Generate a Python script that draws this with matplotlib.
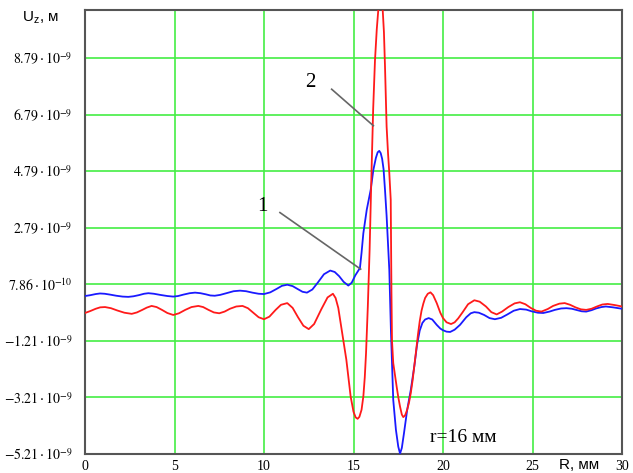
import numpy as np
import matplotlib
matplotlib.use("Agg")
import matplotlib.pyplot as plt

plt.rcParams['mathtext.fontset'] = 'stix'

# ---- data (R in mm, U in units of 1e-9 m) ----
r_blue = [0.0, 0.3, 0.6, 0.84, 1.1, 1.4, 1.75, 2.1, 2.42, 2.7, 3.0, 3.3, 3.54, 3.85, 4.2, 4.6,
          4.93, 5.2, 5.5, 5.85, 6.15, 6.45, 6.75, 7.0, 7.25, 7.55, 7.9, 8.3, 8.66, 9.0, 9.35,
          9.7, 10.0, 10.35, 10.7, 11.0, 11.3, 11.6, 11.9, 12.15, 12.4, 12.7, 13.0, 13.35,
          13.7, 13.95, 14.2, 14.45, 14.71, 14.9, 15.1, 15.36, 15.45, 15.55, 15.74, 15.96,
          16.11, 16.25, 16.35, 16.44, 16.52, 16.6, 16.68, 16.76, 16.85, 17.0, 17.09, 17.22,
          17.37, 17.5, 17.6, 17.7, 17.82, 18.0, 18.2, 18.4, 18.55, 18.7, 18.85, 19.0, 19.2,
          19.4, 19.65, 19.85, 20.0, 20.2, 20.4, 20.65, 20.95, 21.3, 21.55, 21.75, 22.0, 22.3,
          22.6, 22.9, 23.25, 23.6, 23.95, 24.3, 24.65, 24.95, 25.3, 25.6, 25.95, 26.25, 26.6,
          26.9, 27.2, 27.5, 27.75, 28.0, 28.3, 28.55, 28.85, 29.1, 29.5, 30.0]
u_blue = [0.37, 0.40, 0.44, 0.46, 0.45, 0.42, 0.38, 0.35, 0.34, 0.36, 0.40, 0.45, 0.47, 0.45, 0.41, 0.37,
          0.35, 0.37, 0.42, 0.47, 0.49, 0.47, 0.43, 0.39, 0.38, 0.41, 0.47, 0.54, 0.56, 0.54, 0.49,
          0.45, 0.44, 0.50, 0.62, 0.73, 0.77, 0.72, 0.61, 0.52, 0.49, 0.60, 0.84, 1.14,
          1.27, 1.22, 1.07, 0.87, 0.74, 0.84, 1.10, 1.36, 1.90, 2.59, 3.42, 4.12,
          4.83, 5.25, 5.45, 5.50, 5.42, 5.22, 4.85, 4.12, 3.20, 1.30, -0.83, -3.30,
          -4.36, -4.95, -5.20, -5.00, -4.48, -3.65, -2.95, -2.10, -1.35, -0.85, -0.58, -0.46, -0.41,
          -0.46, -0.65, -0.78, -0.84, -0.89, -0.90, -0.82, -0.65, -0.38, -0.24, -0.20, -0.22, -0.30,
          -0.41, -0.45, -0.40, -0.28, -0.15, -0.09, -0.11, -0.17, -0.22, -0.23, -0.18, -0.12, -0.07,
          -0.06, -0.08, -0.13, -0.17, -0.18, -0.13, -0.07, -0.02, 0.0, -0.03, -0.08]

r_red = [0.0, 0.3, 0.6, 0.85, 1.12, 1.45, 1.8, 2.2, 2.61, 2.9, 3.2, 3.45, 3.72, 4.0, 4.3, 4.6,
         4.93, 5.25, 5.6, 5.95, 6.33, 6.6, 6.9, 7.2, 7.5, 7.8, 8.1, 8.45, 8.8, 9.1, 9.4, 9.7,
         10.0, 10.3, 10.65, 10.95, 11.3, 11.6, 11.9, 12.2, 12.5, 12.8, 13.2, 13.55, 13.85,
         14.0, 14.15, 14.34, 14.6, 14.84, 15.0, 15.12, 15.23, 15.33, 15.45, 15.55, 15.63,
         15.7, 15.8, 15.9, 16.0, 16.1, 16.2, 16.3, 16.4, 16.51, 16.63, 16.7, 16.76, 16.85,
         16.93, 17.0, 17.08, 17.12, 17.15, 17.22, 17.32, 17.41, 17.5, 17.6, 17.7, 17.78,
         17.88, 18.0, 18.1, 18.2, 18.3, 18.4, 18.5, 18.6, 18.7, 18.8, 18.9, 19.0, 19.15,
         19.3, 19.45, 19.65, 19.85, 20.0, 20.2, 20.45, 20.65, 20.85, 21.1, 21.4, 21.75,
         22.05, 22.4, 22.7, 23.0, 23.3, 23.65, 24.0, 24.3, 24.6, 24.9, 25.2, 25.5, 25.85,
         26.15, 26.5, 26.8, 27.1, 27.4, 27.7, 28.0, 28.3, 28.6, 28.9, 29.2, 29.6, 30.0]
u_red = [-0.23, -0.16, -0.08, -0.03, -0.02, -0.06, -0.14, -0.22, -0.26, -0.21, -0.12, -0.04, 0.02, -0.02, -0.12, -0.23,
         -0.30, -0.24, -0.12, -0.02, 0.02, -0.02, -0.12, -0.21, -0.24, -0.18, -0.08, 0.0, 0.02, -0.06, -0.22, -0.38,
         -0.45, -0.36, -0.12, 0.06, 0.12, -0.05, -0.38, -0.68, -0.80, -0.62, -0.10, 0.32, 0.45,
         0.30, -0.05, -0.83, -1.88, -3.18, -3.72, -3.92, -3.97, -3.90, -3.65, -3.18, -2.50,
         -1.65, 0.0, 2.0, 4.6, 7.0, 8.7, 9.8, 10.6, 11.0, 10.5, 9.7, 8.48, 6.36,
         5.4, 4.72, 3.77, 0.5, -1.2, -2.0, -2.45, -2.83, -3.2, -3.54, -3.82, -3.91,
         -3.85, -3.65, -3.40, -3.06, -2.62, -2.10, -1.55, -1.00, -0.52, -0.15, 0.10, 0.30, 0.45,
         0.50, 0.40, 0.12, -0.22, -0.41, -0.56, -0.62, -0.56, -0.42, -0.20, 0.08, 0.22,
         0.17, 0.0, -0.20, -0.28, -0.18, -0.02, 0.11, 0.15, 0.08, -0.05, -0.15, -0.18, -0.09,
         0.02, 0.10, 0.12, 0.06, -0.03, -0.10, -0.12, -0.08, 0.0, 0.07, 0.09, 0.05, 0.0]

x_ticks = [0, 5, 10, 15, 20, 25, 30]
y_ticks = [-5.214, -3.214, -1.214, 0.786, 2.786, 4.786, 6.786, 8.786]
y_tick_labels = [r"$-5.21\cdot10^{-9}$", r"$-3.21\cdot10^{-9}$", r"$-1.21\cdot10^{-9}$",
                 r"$7.86\cdot10^{-10}$", r"$2.79\cdot10^{-9}$", r"$4.79\cdot10^{-9}$",
                 r"$6.79\cdot10^{-9}$", r"$8.79\cdot10^{-9}$"]

scale = 1e-9

fig = plt.figure(figsize=(6.33, 4.73), dpi=100)
ax = fig.add_axes([85/633, 19/473, (622-85)/633, (454-10)/473])

ax.plot(r_blue, np.array(u_blue)*scale, color='#1a1aff', lw=1.3, zorder=3,
        solid_joinstyle='round')
ax.plot(r_red, np.array(u_red)*scale, color='#ff1a1a', lw=1.3, zorder=3,
        solid_joinstyle='round')

ax.set_xlim(0, 30)
ax.set_ylim(-5.214e-9, 10.48e-9)
ax.set_xticks(x_ticks)
ax.set_xticklabels([str(t) for t in x_ticks], family='Liberation Serif', fontsize=10)
ax.set_yticks(np.array(y_ticks)*scale)
ax.set_yticklabels(y_tick_labels, fontsize=10)
ax.tick_params(axis='both', length=0)
ax.tick_params(axis='y', pad=9)
ax.tick_params(axis='x', pad=4)
ax.grid(True, color='#44ee44', lw=1.2, zorder=1)
ax.set_axisbelow(True)
for s in ax.spines.values():
    s.set_color('#555555')
    s.set_linewidth(1.5)

# annotations
ax.plot([10.89, 15.40], [3.32e-9, 1.32e-9], color='#666666', lw=1.2, zorder=4)
ax.text(9.89, 3.52e-9, "1", family='Liberation Serif', fontsize=15, ha='center', va='center')
ax.plot([13.78, 16.11], [7.68e-9, 6.39e-9], color='#666666', lw=1.2, zorder=4)
ax.text(12.57, 7.92e-9, "2", family='Liberation Serif', fontsize=15, ha='center', va='center')
ax.text(19.27, -4.64e-9, "r=16 мм", family='Liberation Serif', fontsize=14, ha='left', va='center')

fig.text(41/633, 1 - 18/473, r"U$_\mathregular{z}$, м", family='Liberation Sans', fontsize=11,
         ha='center', va='center')
fig.text(579/633, 1 - 465/473, "R, мм", family='Liberation Sans', fontsize=11,
         ha='center', va='center')

fig.savefig("out.png", dpi=100)
